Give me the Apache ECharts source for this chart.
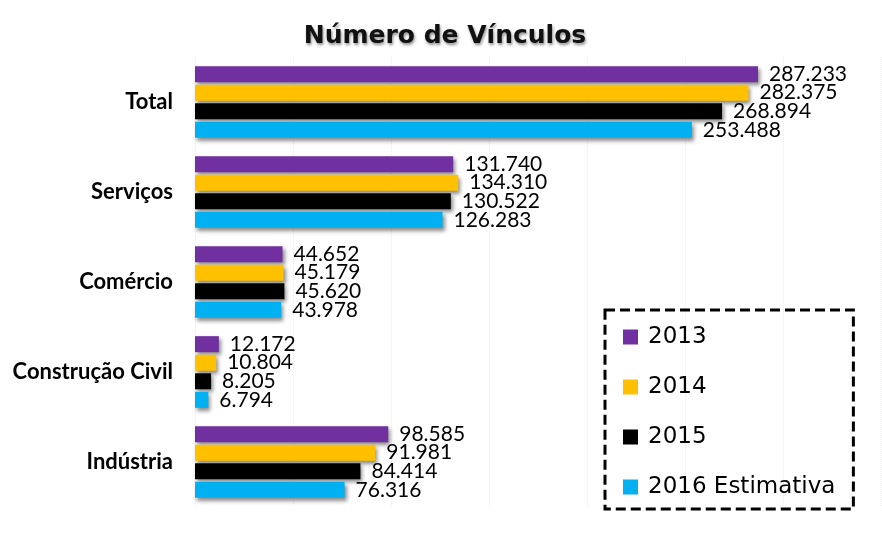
<!DOCTYPE html>
<html>
<head>
<meta charset="utf-8">
<script src="https://cdn.jsdelivr.net/npm/echarts@6/dist/echarts.min.js"></script>
<style>html,body{margin:0;padding:0;background:#fff}#c{width:882px;height:533px}</style>
</head>
<body>
<div id="c"></div>
<script>
var categories = ['Total', 'Serviços', 'Comércio', 'Construção Civil', 'Indústria'];
var seriesNames = ['2013', '2014', '2015', '2016 Estimativa'];
var v2013 = [287233, 131740, 44652, 12172, 98585];
var v2014 = [282375, 134310, 45179, 10804, 91981];
var v2015 = [268894, 130522, 45620, 8205, 84414];
var v2016 = [253488, 126283, 43978, 6794, 76316];
var colors = ['#7030A0', '#FFC000', '#000000', '#00B0F0'];

function fmt(v) {
  return String(v).replace(/\B(?=(\d{3})+(?!\d))/g, '.');
}

var chart = echarts.init(document.getElementById('c'));
var allValues = [v2013, v2014, v2015, v2016];
var series = allValues.map(function (vals, i) {
  return {
    name: seriesNames[i],
    type: 'bar',
    data: vals,
    barWidth: 16,
    barGap: '16%',
    itemStyle: {
      color: colors[i],
      shadowColor: 'rgba(0,0,0,0.45)',
      shadowBlur: 4,
      shadowOffsetX: 2,
      shadowOffsetY: 3
    },
    label: {
      show: true,
      position: 'right',
      distance: 11,
      color: '#000',
      fontFamily: 'Lato',
      fontSize: 21,
      formatter: function (p) { return fmt(p.value); }
    }
  };
});

chart.setOption({
  backgroundColor: '#fff',
  animation: false,
  title: {
    text: 'Número de Vínculos',
    left: 440,
    textAlign: 'center',
    top: 19,
    textStyle: {
      fontFamily: 'DejaVu Sans',
      fontWeight: 'bold',
      fontSize: 25,
      color: '#111',
      textShadowColor: 'rgba(0,0,0,0.45)',
      textShadowBlur: 3,
      textShadowOffsetX: 1,
      textShadowOffsetY: 2
    }
  },
  legend: {
    orient: 'vertical',
    left: 605,
    top: 310,
    padding: [14, 18, 9, 18],
    itemGap: 24,
    itemWidth: 15,
    itemHeight: 15,
    icon: 'rect',
    borderColor: '#000',
    borderWidth: 3,
    borderType: [10, 5],
    textStyle: { fontFamily: 'DejaVu Sans', fontSize: 23, lineHeight: 26, color: '#000', padding: [0, 0, 0, 5] },
    data: seriesNames
  },
  grid: { left: 195, top: 57, width: 686, height: 450, containLabel: false },
  xAxis: {
    type: 'value',
    min: 0,
    max: 350000,
    interval: 50000,
    axisLabel: { show: false },
    axisLine: { show: false },
    axisTick: { show: false },
    splitLine: { show: true, lineStyle: { color: '#ececec', type: 'dotted', width: 1 } }
  },
  yAxis: {
    type: 'category',
    inverse: true,
    data: categories,
    axisLine: { show: false },
    axisTick: { show: false },
    axisLabel: {
      margin: 22,
      fontFamily: 'Lato',
      fontWeight: 'bold',
      fontSize: 22,
      color: '#000'
    }
  },
  series: series
});
</script>
</body>
</html>
